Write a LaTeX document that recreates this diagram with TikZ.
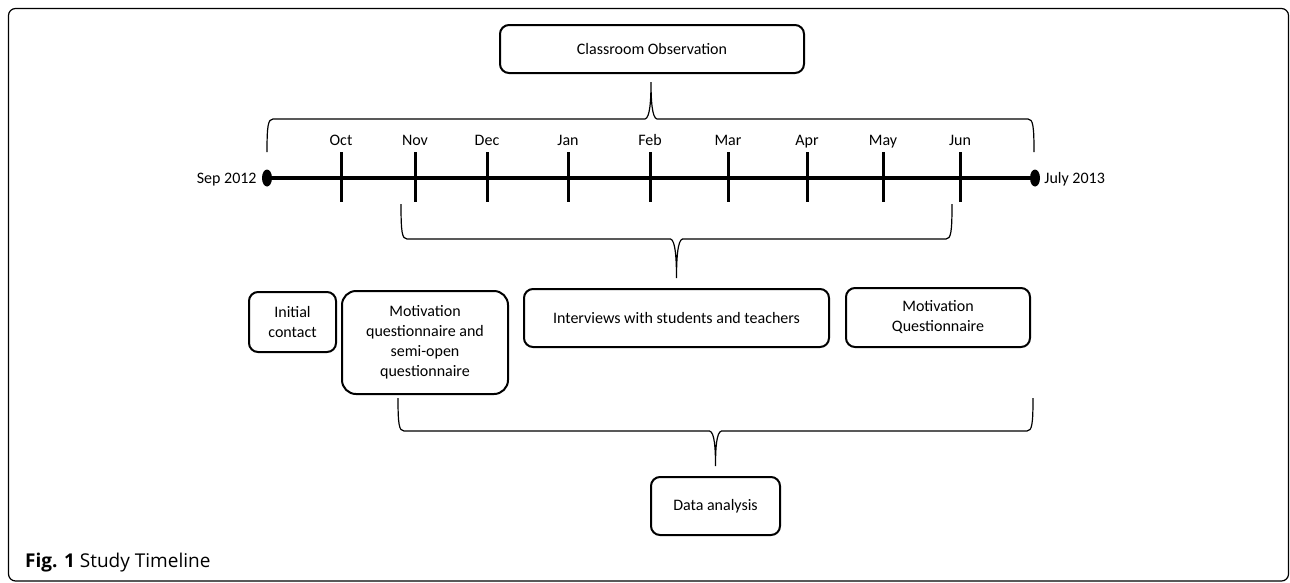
\documentclass[tikz,border=0pt]{standalone}
\usepackage{fontspec}
\setmainfont{Carlito}
\newfontfamily\figcaptionfont{Open Sans}
\usetikzlibrary{calc,positioning,shapes.geometric}

% brace: left end, tip, right end, bar level, side of the ends (1 below the bar, -1 above)
\newcommand{\TimeBrace}[5]{%
  \coordinate (bl) at (#1|-#4);
  \coordinate (bt) at (#2|-#4);
  \coordinate (br) at (#3|-#4);
  \draw[BraceStyle] (#1) .. controls ($(bl)+(0,#5*7)$) and ($(bl)+(1,0)$) .. ($(bl)+(6,0)$)
    -- ($(bt)+(-6,0)$) .. controls ($(bt)+(-1,#5*-1)$) and ($(#2)+(0,#5*18)$) .. (#2)
    .. controls ($(#2)+(0,#5*18)$) and ($(bt)+(1,#5*-1)$) .. ($(bt)+(6,0)$)
    -- ($(br)+(-6,0)$) .. controls ($(br)+(-1,0)$) and ($(br)+(0,#5*7)$) .. (#3);
}

\begin{document}
\begin{tikzpicture}[x=1pt,y=-1pt]
		\tikzstyle{BoxStyle}=[draw,line width=2pt,rounded corners=9pt,align=center,
		  font=\fontsize{16}{20}\selectfont,inner sep=2pt]
		\tikzstyle{MonthStyle}=[font=\fontsize{16}{20}\selectfont,inner sep=0pt,text height=11.5pt,text depth=0pt]
		\tikzstyle{TickStyle}=[line width=3pt]
		\tikzstyle{DotStyle}=[ellipse,fill=black,inner sep=0pt,minimum width=10pt,minimum height=17pt]
		\tikzstyle{BraceStyle}=[line width=1.2pt]
		\useasboundingbox (0,0) rectangle (1290,582);
		\draw[line width=1.2pt,rounded corners=7pt] (8.5,8.5) rectangle (1288.5,581);
		% timeline
		\node[DotStyle] (start) at (267,178) {};
		\node[DotStyle] (end) at (1035,178) {};
		\draw[line width=3.5pt] (start) -- (end);
		\node[MonthStyle,left=5pt of start] (startlbl) {Sep 2012};
		\node[MonthStyle,right=4pt of end] (endlbl) {July 2013};
		\foreach \m/\x in {Oct/341,Nov/415,Dec/487,Jan/568,Feb/650,Mar/728,Apr/807,May/883,Jun/960}{
			\draw[TickStyle] (\x,152) -- (\x,202);
			\node[MonthStyle] (m\m) at (\x,140) {\m};
		}
		% boxes
		\node[BoxStyle,minimum width=304pt,minimum height=48pt] (obs) at (652,49) {Classroom Observation};
		\node[BoxStyle,minimum width=87pt,minimum height=60pt] (init) at (292.5,322) {Initial\\contact};
		\node[BoxStyle,rounded corners=14pt,minimum width=166pt,minimum height=103pt] (mq) at (425,342.5)
			{Motivation\\questionnaire and\\semi-open\\questionnaire};
		\node[BoxStyle,minimum width=305pt,minimum height=58pt] (intv) at (676.5,318) {Interviews with students and teachers};
		\node[BoxStyle,minimum width=184pt,minimum height=59pt] (mq2) at (938,317.5) {Motivation\\Questionnaire};
		\node[BoxStyle,minimum width=129pt,minimum height=58pt] (data) at (715.5,506) {Data analysis};
		% braces
		\coordinate (obsL) at (267,152);
		\coordinate (obsR) at (1034,152);
		\coordinate (obsBar) at (0,119);
		\coordinate (obsTip) at ($(obs.south)+(-1,8)$);
		\TimeBrace{obsL}{obsTip}{obsR}{obsBar}{1}
		\coordinate (intvL) at (401,204);
		\coordinate (intvR) at (952,204);
		\coordinate (intvBar) at (0,239);
		\coordinate (intvTip) at ($(intv.north)+(0,-10)$);
		\TimeBrace{intvL}{intvTip}{intvR}{intvBar}{-1}
		\coordinate (dataL) at (398,398);
		\coordinate (dataR) at (1033,398);
		\coordinate (dataBar) at (0,431);
		\coordinate (dataTip) at ($(data.north)+(0,-10)$);
		\TimeBrace{dataL}{dataTip}{dataR}{dataBar}{-1}
		% caption
		\node[anchor=base west,inner sep=0pt,font=\figcaptionfont\fontsize{19}{22}\selectfont] (cap) at (25,567)
			{\textbf{Fig. 1} Study Timeline};
	\end{tikzpicture}
\end{document}
